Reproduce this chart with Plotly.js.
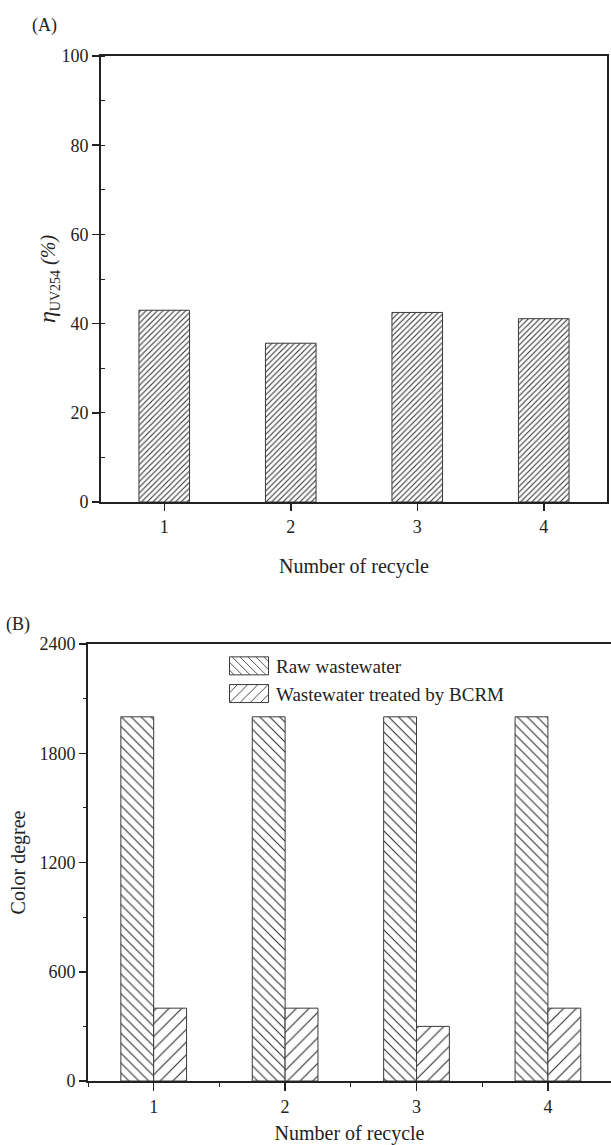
<!DOCTYPE html>
<html>
<head>
<meta charset="utf-8">
<script src="https://cdn.plot.ly/plotly-3.0.1.min.js"></script>
<style>
  html, body { margin: 0; padding: 0; background: #ffffff; }
  #chart { width: 611px; height: 1145px; }
</style>
</head>
<body>
<div id="chart"></div>
<script>
// Recycling runs
const cycles = [1, 2, 3, 4];

// (A) UV254 removal efficiency per run, %
const uvRemoval = [43.0, 35.6, 42.5, 41.1];

// (B) colour degree before and after treatment
const rawColor = [2000, 2000, 2000, 2000];
const treatedColor = [400, 400, 300, 400];
const seriesNames = ['Raw wastewater', 'Wastewater treated by BCRM'];

const W = 611, H = 1145;
const fx = v => v / W;          // pixel -> paper x
const fy = v => 1 - v / H;      // pixel -> paper y
const serif = '"Liberation Serif", "Times New Roman", serif';
const ink = '#222222';

const commonAxis = {
  showgrid: false,
  zeroline: false,
  showline: true,
  linecolor: ink,
  linewidth: 2,
  ticks: 'outside',
  tickcolor: ink,
  tickwidth: 1.5,
  ticklen: 7,
  tickfont: { family: serif, size: 18, color: ink },
  title: { font: { family: serif, size: 20, color: ink } }
};

const data = [
  {
    type: 'bar',
    x: cycles,
    y: uvRemoval,
    width: 0.4,
    xaxis: 'x', yaxis: 'y',
    showlegend: false,
    marker: {
      color: '#ffffff',
      line: { color: '#3a3a3a', width: 1 },
      pattern: { shape: '/', size: 4, solidity: 0.25, fgcolor: '#2a2a2a', bgcolor: '#ffffff' }
    },
    hoverinfo: 'skip'
  },
  {
    type: 'bar',
    name: seriesNames[0],
    x: cycles,
    y: rawColor,
    width: 0.25,
    offset: -0.25,
    xaxis: 'x2', yaxis: 'y2',
    marker: {
      color: '#ffffff',
      line: { color: '#3a3a3a', width: 1 },
      pattern: { shape: '\\', size: 7, solidity: 0.15, fgcolor: '#2a2a2a', bgcolor: '#ffffff' }
    },
    hoverinfo: 'skip'
  },
  {
    type: 'bar',
    name: seriesNames[1],
    x: cycles,
    y: treatedColor,
    width: 0.25,
    offset: 0,
    xaxis: 'x2', yaxis: 'y2',
    marker: {
      color: '#ffffff',
      line: { color: '#3a3a3a', width: 1 },
      pattern: { shape: '/', size: 9, solidity: 0.12, fgcolor: '#2a2a2a', bgcolor: '#ffffff' }
    },
    hoverinfo: 'skip'
  }
];

const layout = {
  width: W,
  height: H,
  margin: { l: 0, r: 0, t: 0, b: 0 },
  paper_bgcolor: '#ffffff',
  plot_bgcolor: '#ffffff',
  barmode: 'overlay',
  font: { family: serif, color: ink },
  showlegend: true,

  xaxis: Object.assign({}, commonAxis, {
    domain: [fx(101), fx(607)],
    anchor: 'y',
    range: [0.5, 4.5],
    tickmode: 'linear', tick0: 1, dtick: 1,
    mirror: true,
    title: { text: 'Number of recycle', font: commonAxis.title.font }
  }),
  yaxis: Object.assign({}, commonAxis, {
    domain: [fy(502), fy(56)],
    anchor: 'x',
    range: [0, 100],
    tickmode: 'linear', tick0: 0, dtick: 20,
    minor: { ticks: 'inside', ticklen: 4, tickwidth: 1, tickcolor: ink, dtick: 10, tick0: 0 },
    mirror: true,
    title: {
      text: '<span style="font-size:24px"><i>η</i></span><sub>UV254</sub> <i>(%)</i>',
      font: commonAxis.title.font,
      standoff: 0
    }
  }),

  xaxis2: Object.assign({}, commonAxis, {
    domain: [fx(88), 1],
    anchor: 'y2',
    range: [0.5, 4.48],
    tickmode: 'linear', tick0: 1, dtick: 1,
    ticklen: 8,
    minor: { ticks: 'outside', ticklen: 4, tickwidth: 1, tickcolor: ink, dtick: 0.5, tick0: 0 },
    mirror: true,
    title: { text: 'Number of recycle', font: commonAxis.title.font }
  }),
  yaxis2: Object.assign({}, commonAxis, {
    domain: [fy(1081), fy(644)],
    anchor: 'x2',
    range: [0, 2400],
    tickmode: 'linear', tick0: 0, dtick: 600,
    minor: { ticks: 'outside', ticklen: 3, tickwidth: 1, tickcolor: ink, dtick: 300, tick0: 0 },
    title: { text: 'Color degree', font: commonAxis.title.font, standoff: 8 }
  }),

  legend: {
    x: fx(222),
    y: fy(647),
    xanchor: 'left',
    yanchor: 'top',
    bgcolor: 'rgba(0,0,0,0)',
    borderwidth: 0,
    font: { family: serif, size: 19, color: ink },
    itemwidth: 44,
    traceorder: 'normal'
  },

  annotations: [
    { text: '(A)', xref: 'paper', yref: 'paper', x: fx(44), y: fy(25),
      xanchor: 'center', yanchor: 'middle', showarrow: false,
      font: { family: serif, size: 18, color: ink } },
    { text: '(B)', xref: 'paper', yref: 'paper', x: fx(18), y: fy(624),
      xanchor: 'center', yanchor: 'middle', showarrow: false,
      font: { family: serif, size: 18, color: ink } }
  ]
};

// widen the legend swatches into wide hatched boxes
function widenSwatches(gd) {
  gd.querySelectorAll('g.legendpoints path').forEach(p => {
    p.setAttribute('d', 'M-19.5,-9H19.5V9H-19.5Z');
  });
}

const gd = document.getElementById('chart');
Plotly.newPlot(gd, data, layout, { staticPlot: true, displayModeBar: false }).then(() => {
  widenSwatches(gd);
  requestAnimationFrame(() => widenSwatches(gd));
  setTimeout(() => widenSwatches(gd), 50);
});
</script>
</body>
</html>
